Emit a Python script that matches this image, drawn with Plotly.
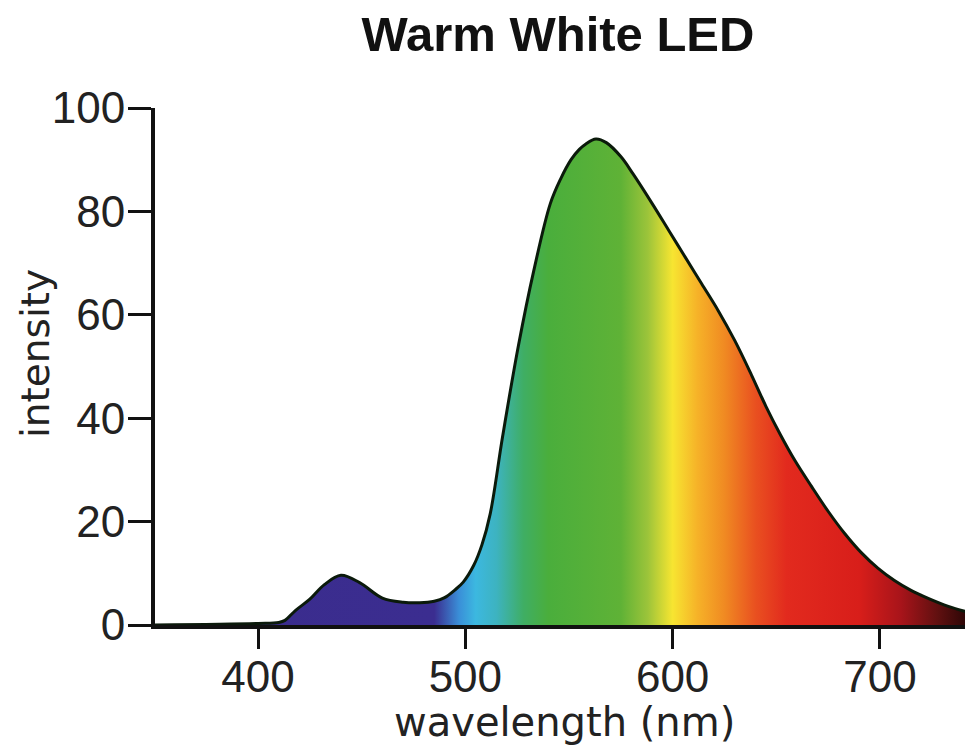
import plotly.graph_objects as go

# ---- data ----
wavelength_nm = [350, 400, 410, 413, 418, 425, 432, 440, 449, 460, 470, 478, 485,
                 490, 495, 499, 504, 508, 512, 518, 525.6, 533, 541, 546, 551, 555,
                 558, 563, 568, 575, 581, 590, 598, 606, 614, 622, 630, 638, 645,
                 652, 659, 667, 675, 683, 691, 699, 707, 715, 723, 733, 745]
intensity = [0, 0.3, 0.5, 0.9, 2.8, 5.0, 7.8, 9.6, 8.2, 5.2, 4.4, 4.3, 4.6,
             5.3, 6.8, 8.3, 11.5, 15.5, 21.5, 36.5, 54, 68.5, 81.5, 86.3, 90, 92,
             93, 94, 93.3, 90.6, 87.2, 81.6, 76.4, 71.2, 66, 60.8, 55, 48.4, 42.3,
             36.8, 31.8, 26.8, 22.0, 17.7, 14.0, 11.0, 8.6, 6.7, 5.2, 3.6, 2.2]

x_ticks = [400, 500, 600, 700]
y_ticks = [0, 20, 40, 60, 80, 100]

# spectrum colours along the wavelength axis
grad_nm = [350, 485, 497, 505, 515, 528, 540, 575, 588, 600, 612, 625, 640,
           655, 690, 710, 728, 745]
grad_colors = ["#3a2c8c", "#3b2d90", "#3a8fd8", "#3cb8e0", "#3db3c0", "#3fae64",
               "#4aae3c", "#5fb236", "#9cc43a", "#f7e531", "#f6b228", "#f08a22",
               "#e95020", "#e22a1e", "#d81e1a", "#a8141a", "#601010", "#200404"]

g0, g1 = grad_nm[0], grad_nm[-1]
colorscale = [[(w - g0) / (g1 - g0), c] for w, c in zip(grad_nm, grad_colors)]

fig = go.Figure()
fig.add_trace(go.Scatter(
    x=wavelength_nm, y=intensity,
    mode="lines",
    line=dict(color="#0b1a0b", width=3, shape="spline", smoothing=1.0),
    fill="tozeroy",
    fillgradient=dict(type="horizontal", colorscale=colorscale, start=g0, stop=g1),
    hoverinfo="x+y",
    showlegend=False,
))

tick_font = dict(family="Liberation Sans, Arial, sans-serif", size=44, color="#222")
title_font = dict(family="DejaVu Sans, sans-serif", size=41, color="#222")

# the page body adds an 8 px offset; margins compensate for it
fig.update_layout(
    width=973, height=751,
    margin=dict(l=147, r=8, t=100, b=134),
    paper_bgcolor="white", plot_bgcolor="white",
    title=dict(
        text="<b>Warm White LED</b>",
        x=550 / 973, xref="container", xanchor="center",
        y=1 - 26 / 751, yref="container", yanchor="middle",
        font=dict(family="Liberation Sans, Arial, sans-serif", size=49, color="#111"),
    ),
    xaxis=dict(
        range=[350.3, 744.9], tickvals=x_ticks, ticktext=[str(v) for v in x_ticks],
        ticks="outside", ticklen=20, tickwidth=3, tickcolor="#111",
        showline=True, linewidth=4, linecolor="#111", ticklabelstandoff=-10,
        showgrid=False, zeroline=False, tickfont=tick_font,
    ),
    yaxis=dict(
        range=[0, 100], tickvals=y_ticks, ticktext=[str(v) for v in y_ticks],
        ticks="outside", ticklen=23, tickwidth=3, tickcolor="#111",
        showline=True, linewidth=4, linecolor="#111", ticklabelstandoff=-6,
        showgrid=False, zeroline=False, tickfont=tick_font,
    ),
    annotations=[
        dict(text="wavelength (nm)", xref="paper", yref="paper",
             x=0.5, y=(625 - 722) / 517, xanchor="center", yanchor="middle",
             showarrow=False, font=dict(title_font, size=40)),
        dict(text="intensity", xref="paper", yref="paper",
             x=(35 - 155) / 818, y=(625 - 353) / 517, xanchor="center", yanchor="middle",
             textangle=-90, showarrow=False, font=dict(title_font, size=39)),
    ],
)

fig.write_html("out.html")
